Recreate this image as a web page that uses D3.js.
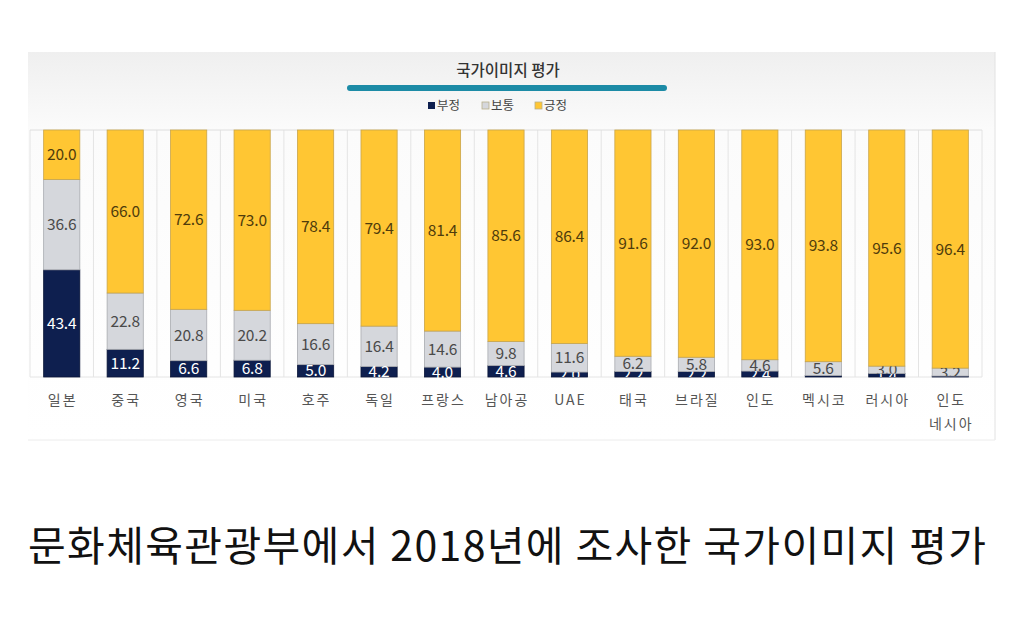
<!DOCTYPE html>
<html>
<head>
<meta charset="utf-8">
<script src="https://cdn.jsdelivr.net/npm/d3@7"></script>
<style>
  body { margin: 0; background: #fff; }
  svg { display: block; }
</style>
</head>
<body>
<svg id="chart" width="1024" height="624"></svg>
<script>
'use strict';

// categories (Indonesia is split on two lines in the picture)
let countries = ['일본', '중국', '영국', '미국', '호주', '독일', '프랑스', '남아공', 'UAE', '태국', '브라질', '인도', '멕시코', '러시아', '인도\n네시아'];
let negative = [43.4, 11.2, 6.6, 6.8, 5.0, 4.2, 4.0, 4.6, 2.0, 2.2, 2.2, 2.4, 0.6, 1.4, 0.4];
let neutral  = [36.6, 22.8, 20.8, 20.2, 16.6, 16.4, 14.6, 9.8, 11.6, 6.2, 5.8, 4.6, 5.6, 3.0, 3.2];
let positive = [20.0, 66.0, 72.6, 73.0, 78.4, 79.4, 81.4, 85.6, 86.4, 91.6, 92.0, 93.0, 93.8, 95.6, 96.4];
let seriesNames = ['부정', '보통', '긍정'];

let colors = {
    '부정': {fill: '#0e1f4f', stroke: '#0a1638', text: '#ffffff'},
    '보통': {fill: '#d5d7dc', stroke: '#a9abb0', text: '#4a4a4a'},
    '긍정': {fill: '#ffc633', stroke: '#c9a54a', text: '#4f3c0c'}
};

let font = '"Noto Sans CJK KR", "Noto Sans", sans-serif';
let svg = d3.select('#chart');

// panel background
let defs = svg.append('defs');
let grad = defs.append('linearGradient').attr('id', 'panelGrad')
    .attr('x1', 0).attr('y1', 0).attr('x2', 0).attr('y2', 1);
grad.append('stop').attr('offset', '0%').attr('stop-color', '#efefef');
grad.append('stop').attr('offset', '20%').attr('stop-color', '#fbfbfb');
grad.append('stop').attr('offset', '100%').attr('stop-color', '#ffffff');

svg.append('rect')
    .attr('x', 28).attr('y', 52).attr('width', 967).attr('height', 388)
    .attr('fill', 'url(#panelGrad)');
svg.append('line')
    .attr('x1', 995).attr('x2', 995).attr('y1', 52).attr('y2', 440)
    .attr('stroke', '#e2e2e2');
svg.append('line')
    .attr('x1', 28).attr('x2', 995).attr('y1', 440).attr('y2', 440)
    .attr('stroke', '#ececec');

// title + teal bar
svg.append('text')
    .attr('x', 508).attr('y', 76)
    .attr('text-anchor', 'middle')
    .attr('font-family', font).attr('font-size', 15.5).attr('font-weight', 500)
    .attr('fill', '#333')
    .text('국가이미지 평가');

svg.append('line')
    .attr('x1', 350).attr('x2', 664).attr('y1', 88).attr('y2', 88)
    .attr('stroke', '#1c8ba6').attr('stroke-width', 6).attr('stroke-linecap', 'round');

// legend
let legendX = [428, 482, 535];
let legend = svg.append('g').selectAll('g')
    .data(seriesNames)
    .join('g')
    .attr('transform', function (d, i) { return 'translate(' + legendX[i] + ',110)'; });
legend.append('rect')
    .attr('x', 0).attr('y', -8).attr('width', 7).attr('height', 7)
    .attr('fill', function (d) { return colors[d].fill; })
    .attr('stroke', function (d) { return d === '부정' ? 'none' : '#b8b08a'; })
    .attr('stroke-width', 0.8);
legend.append('text')
    .attr('x', 9).attr('y', 0)
    .attr('font-family', font).attr('font-size', 12.5)
    .attr('fill', '#444')
    .text(function (d) { return d; });

// scales
let x = d3.scaleBand().domain(countries).range([30, 982]).paddingInner(0.43).paddingOuter(0.215);
let y = d3.scaleLinear().domain([0, 100]).range([377, 130]);

let plot = svg.append('g');

// frame and vertical separators between categories
let seps = d3.range(countries.length + 1).map(function (i) { return 30 + i * x.step(); });
plot.selectAll('line.sep')
    .data(seps)
    .join('line')
    .attr('class', 'sep')
    .attr('x1', function (d) { return d; }).attr('x2', function (d) { return d; })
    .attr('y1', y(100)).attr('y2', y(0))
    .attr('stroke', '#e4e4e4');
plot.append('line')
    .attr('x1', 30).attr('x2', 982).attr('y1', y(100)).attr('y2', y(100))
    .attr('stroke', '#dedede');
plot.append('line')
    .attr('x1', 30).attr('x2', 982).attr('y1', y(0)).attr('y2', y(0))
    .attr('stroke', '#e4e4e4');

// stacked data
let rows = countries.map(function (c, i) {
    return {country: c, '부정': negative[i], '보통': neutral[i], '긍정': positive[i]};
});
let stack = d3.stack().keys(seriesNames)(rows);

let segs = [];
stack.forEach(function (layer) {
    layer.forEach(function (p, i) {
        segs.push({key: layer.key, p: p, v: p[1] - p[0], id: 'seg-' + layer.key + '-' + i});
    });
});

// one clip per segment so squeezed labels get cut like in the original
defs.selectAll('clipPath')
    .data(segs)
    .join('clipPath')
    .attr('id', function (d) { return d.id; })
    .append('rect')
    .attr('x', function (d) { return x(d.p.data.country); })
    .attr('width', x.bandwidth())
    .attr('y', function (d) { return y(d.p[1]); })
    .attr('height', function (d) { return y(d.p[0]) - y(d.p[1]); });

plot.selectAll('rect.seg')
    .data(segs)
    .join('rect')
    .attr('class', 'seg')
    .attr('x', function (d) { return x(d.p.data.country); })
    .attr('width', x.bandwidth())
    .attr('y', function (d) { return y(d.p[1]); })
    .attr('height', function (d) { return y(d.p[0]) - y(d.p[1]); })
    .attr('fill', function (d) { return colors[d.key].fill; })
    .attr('stroke', function (d) { return colors[d.key].stroke; })
    .attr('stroke-width', 0.8);

// value labels (the tiniest negative ones are not shown in the picture)
let labels = segs.filter(function (d) { return !(d.key === '부정' && d.v < 1); });

plot.selectAll('text.val')
    .data(labels)
    .join('text')
    .attr('class', 'val')
    .attr('clip-path', function (d) { return d.v < 4 ? 'url(#' + d.id + ')' : null; })
    .attr('x', function (d) { return x(d.p.data.country) + x.bandwidth() / 2; })
    .attr('y', function (d) { return (y(d.p[0]) + y(d.p[1])) / 2; })
    .attr('dy', '0.36em')
    .attr('text-anchor', 'middle')
    .attr('font-family', font).attr('font-size', 15.5)
    .attr('letter-spacing', -0.2)
    .attr('fill', function (d) { return colors[d.key].text; })
    .text(function (d) { return d.v.toFixed(1); });

// category labels
let cat = plot.selectAll('text.cat')
    .data(countries)
    .join('text')
    .attr('class', 'cat')
    .attr('x', function (d) { return x(d) + x.bandwidth() / 2; })
    .attr('y', 405)
    .attr('text-anchor', 'middle')
    .attr('font-family', font).attr('font-size', 14)
    .attr('letter-spacing', 2)
    .attr('fill', '#555');
cat.selectAll('tspan')
    .data(function (d) { return d.split('\n'); })
    .join('tspan')
    .attr('x', function () { let c = d3.select(this.parentNode).datum(); return x(c) + x.bandwidth() / 2 + 1; })
    .attr('dy', function (d, i) { return i === 0 ? 0 : 24; })
    .text(function (d) { return d; });

// caption under the chart
svg.append('text')
    .attr('x', 28).attr('y', 561)
    .attr('font-family', font).attr('font-size', 41)
    .attr('textLength', 958).attr('lengthAdjust', 'spacing')
    .attr('fill', '#111')
    .text('문화체육관광부에서 2018년에 조사한 국가이미지 평가');
</script>
</body>
</html>
